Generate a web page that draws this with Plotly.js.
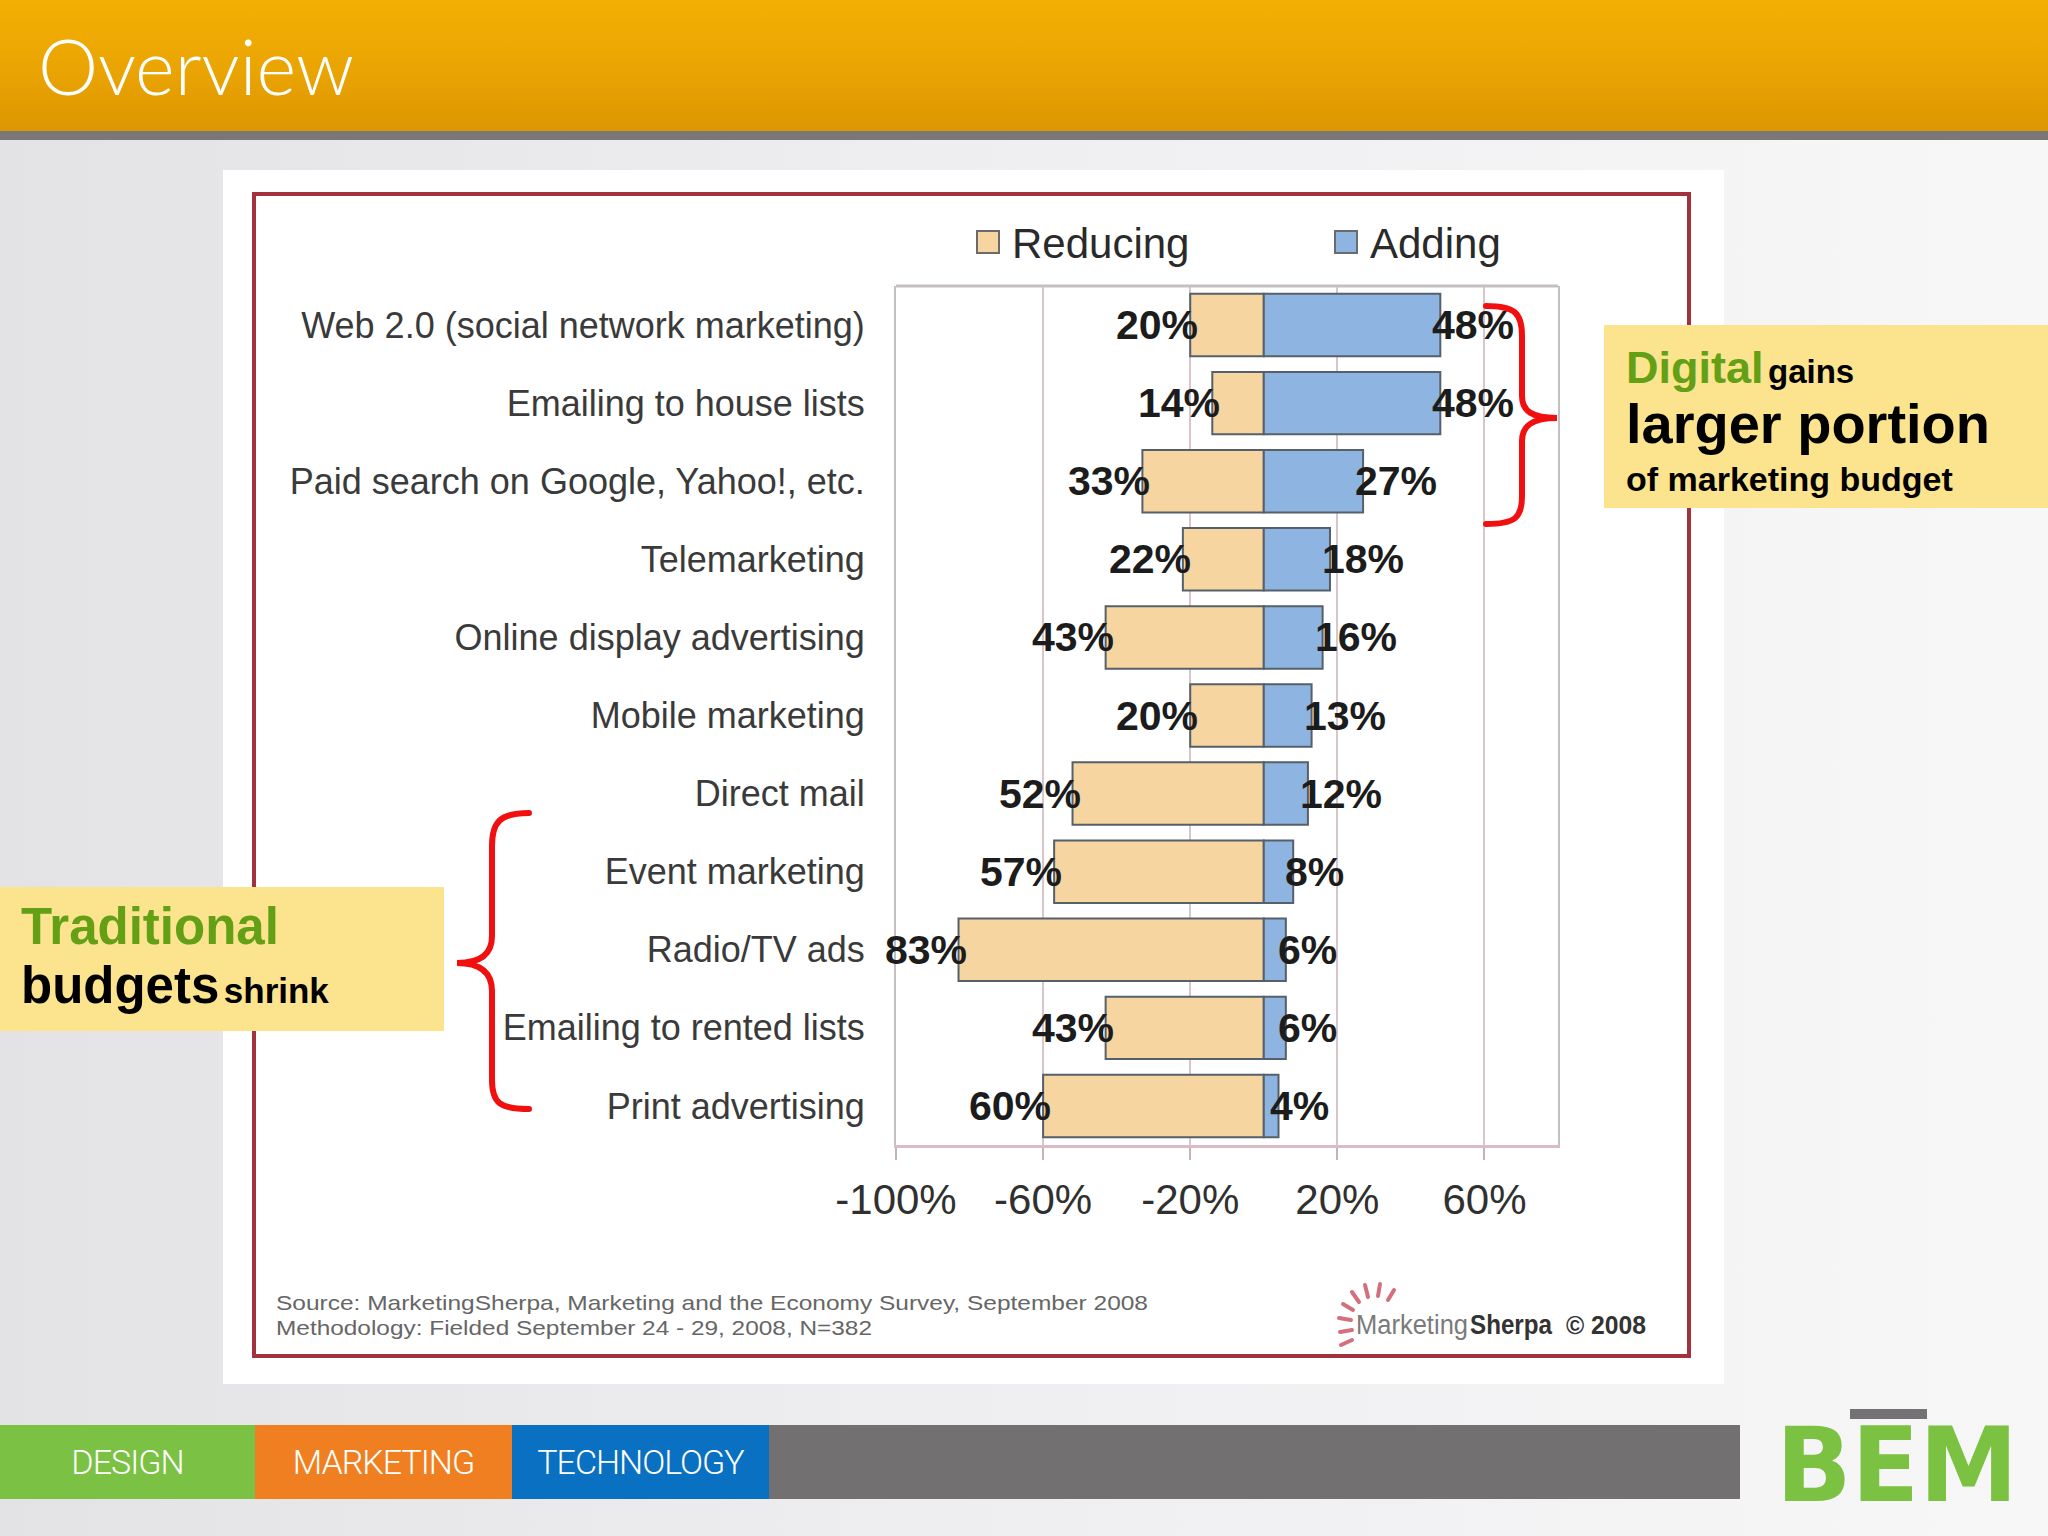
<!DOCTYPE html>
<html>
<head>
<meta charset="utf-8">
<script src="https://cdn.plot.ly/plotly-3.0.1.min.js"></script>
<style>
  html, body { margin:0; padding:0; }
  body { width:2048px; height:1536px; position:relative; overflow:hidden;
         background: linear-gradient(90deg, #e3e3e5 0%, #eeeef0 45%, #f7f7f8 100%); }
  .abs { position:absolute; }
  #header { left:0; top:0; width:2048px; height:132px;
            background: linear-gradient(180deg, #f3af02 0%, #eba503 50%, #dc9601 100%); }
  #stripe { left:0; top:131px; width:2048px; height:9px; background:#7a7778; }
  #title { left:38px; top:21px; color:#fff; font-family:"Lato","Open Sans",sans-serif; font-weight:300;
           font-size:76px; line-height:90px; letter-spacing:0px; }
  #imgbox { left:223px; top:170px; width:1501px; height:1214px; background:#fff; }
  #frame { left:252px; top:192px; width:1431px; height:1158px; border:4px solid #a3323f; box-sizing:content-box; }
  #footer div { position:absolute; top:1425px; height:74px; color:#fff;
                font-family:"Liberation Sans Narrow","Roboto","Liberation Sans",sans-serif; font-weight:300;
                font-size:34px; line-height:74px; text-align:center; letter-spacing:-1px; }
  #plot { left:0; top:0; width:2048px; height:1536px; z-index:1; }
  #overlay { left:0; top:0; width:2048px; height:1536px; z-index:2; pointer-events:none; }
  .ybox { position:absolute; background:#fce38e; font-family:"Liberation Sans",Arial,sans-serif; font-weight:bold; color:#000; }
  .green { color:#63a016; }
</style>
</head>
<body>
<div id="header" class="abs"></div>
<div id="stripe" class="abs"></div>
<div id="title" class="abs">Overview</div>
<div id="imgbox" class="abs"></div>
<div id="frame" class="abs"></div>

<svg class="abs" style="left:0;top:0;" width="2048" height="1536">
  <!-- source notes -->
  <text x="276" y="1310" font-family="Liberation Sans, Arial, sans-serif" font-size="21" fill="#666"
        textLength="872" lengthAdjust="spacingAndGlyphs">Source: MarketingSherpa, Marketing and the Economy Survey, September 2008</text>
  <text x="276" y="1335" font-family="Liberation Sans, Arial, sans-serif" font-size="21" fill="#666"
        textLength="596" lengthAdjust="spacingAndGlyphs">Methodology: Fielded September 24 - 29, 2008, N=382</text>
  <!-- MarketingSherpa logo -->
  <g stroke="#d4707e" stroke-width="4" stroke-linecap="round">
    <line x1="1352" y1="1330" x2="1340" y2="1332"/>
    <line x1="1351" y1="1320" x2="1339" y2="1318"/>
    <line x1="1353" y1="1310" x2="1343" y2="1304"/>
    <line x1="1359" y1="1302" x2="1352" y2="1292"/>
    <line x1="1368" y1="1297" x2="1365" y2="1285"/>
    <line x1="1378" y1="1296" x2="1380" y2="1284"/>
    <line x1="1388" y1="1300" x2="1394" y2="1290"/>
    <line x1="1352" y1="1340" x2="1341" y2="1345"/>
  </g>
  <text x="1356" y="1334" font-family="Liberation Sans, Arial, sans-serif" font-size="27" fill="#7a7a7a"
        textLength="112" lengthAdjust="spacingAndGlyphs">Marketing</text>
  <text x="1470" y="1334" font-family="Liberation Sans, Arial, sans-serif" font-size="27" font-weight="bold" fill="#333"
        textLength="82" lengthAdjust="spacingAndGlyphs">Sherpa</text>
  <text x="1566" y="1334" font-family="Liberation Sans, Arial, sans-serif" font-size="26" font-weight="bold" fill="#333"
        textLength="80" lengthAdjust="spacingAndGlyphs">© 2008</text>
</svg>

<div id="footer">
  <div style="left:0;width:255px;background:#7bc143;">DESIGN</div>
  <div style="left:255px;width:257px;background:#f07f22;">MARKETING</div>
  <div style="left:512px;width:257px;background:#0a70c1;">TECHNOLOGY</div>
  <div style="left:769px;width:971px;background:#727071;"></div>
</div>
<svg class="abs" style="left:0;top:0;" width="2048" height="1536">
  <rect x="1850" y="1409" width="77" height="10" fill="#747275"/>
  <text x="1776" y="1501" font-family="DejaVu Sans, Liberation Sans, sans-serif" font-weight="bold" font-size="104"
        fill="#7cc242" textLength="242" lengthAdjust="spacingAndGlyphs">BEM</text>
</svg>

<div id="plot" class="abs"></div>

<div id="overlay" class="abs">
  <div class="ybox" style="left:1604px;top:325px;width:444px;height:183px;">
    <div style="position:absolute;left:22px;top:17px;white-space:nowrap;line-height:52px;">
      <span class="green" style="font-size:45px;">Digital</span> <span style="font-size:33px;">gains</span>
    </div>
    <div style="position:absolute;left:22px;top:67px;white-space:nowrap;font-size:56px;line-height:64px;">larger portion</div>
    <div style="position:absolute;left:22px;top:134px;white-space:nowrap;font-size:34px;line-height:40px;">of marketing budget</div>
  </div>
  <div class="ybox" style="left:0;top:887px;width:444px;height:144px;">
    <div style="position:absolute;left:21px;top:12px;white-space:nowrap;font-size:51px;line-height:56px;" class="green">Traditional</div>
    <div style="position:absolute;left:21px;top:70px;white-space:nowrap;line-height:58px;">
      <span style="font-size:51px;">budgets</span>&nbsp;<span style="font-size:35px;">shrink</span>
    </div>
  </div>
  <svg style="position:absolute;left:0;top:0;" width="2048" height="1536">
    <path d="M1486,306 C1515,306 1522,313 1522,336 L1522,396 C1522,411 1532,418 1557,418 C1532,418 1522,426 1522,441 L1522,496 C1522,518 1515,524 1486,524"
          fill="none" stroke="#f01010" stroke-width="6" stroke-linecap="round"/>
    <path d="M529,813 C500,813 492,822 492,846 L492,936 C492,953 482,963 457,963 C482,963 492,974 492,991 L492,1080 C492,1103 500,1109 529,1109"
          fill="none" stroke="#f01010" stroke-width="6" stroke-linecap="round"/>
  </svg>
</div>

<script>
// ---------------- data ----------------
const categories = [
  "Web 2.0 (social network marketing)",
  "Emailing to house lists",
  "Paid search on Google, Yahoo!, etc.",
  "Telemarketing",
  "Online display advertising",
  "Mobile marketing",
  "Direct mail",
  "Event marketing",
  "Radio/TV ads",
  "Emailing to rented lists",
  "Print advertising"
];
const reducing = [20, 14, 33, 22, 43, 20, 52, 57, 83, 43, 60];
const adding   = [48, 48, 27, 18, 16, 13, 12, 8, 6, 6, 4];
const seriesNames = ["Reducing", "Adding"];
const tickVals = [-100, -60, -20, 20, 60];
const tickText = ["-100%", "-60%", "-20%", "20%", "60%"];

// ---------------- styles ----------------
const ARIAL = "Liberation Sans, Arial, sans-serif";
const colReduce = "#f6d5a0";
const colAdd = "#8eb4e2";
const barLine = {color: "#56606a", width: 2};

// plot area in page pixels
const PL = 896, PR = 1558, PT = 286, PB = 1145;
const W = 2048, H = 1536;
const px = X => (X - PL) / (PR - PL);
const py = Y => 1 - (Y - PT) / (PB - PT);

const traces = [
  {
    type: "bar", orientation: "h", name: seriesNames[0],
    y: categories, x: reducing.map(v => -v),
    marker: {color: colReduce, line: barLine},
    hoverinfo: "skip", showlegend: false
  },
  {
    type: "bar", orientation: "h", name: seriesNames[1],
    y: categories, x: adding,
    marker: {color: colAdd, line: barLine},
    hoverinfo: "skip", showlegend: false
  }
];

const annotations = [];
categories.forEach((c, i) => {
  annotations.push({
    x: -reducing[i], y: c, xref: "x", yref: "y", text: reducing[i] + "%",
    xanchor: "right", yanchor: "middle", xshift: 10, showarrow: false,
    font: {family: ARIAL, size: 41, color: "#1c1c1c", weight: "bold"}
  });
  annotations.push({
    x: adding[i], y: c, xref: "x", yref: "y", text: adding[i] + "%",
    xanchor: "left", yanchor: "middle", xshift: -10, showarrow: false,
    font: {family: ARIAL, size: 41, color: "#1c1c1c", weight: "bold"}
  });
});

// custom legend (larger swatches than Plotly's fixed symbol)
const legendItems = [
  {name: seriesNames[0], color: colReduce, sx: 977, tx: 1010},
  {name: seriesNames[1], color: colAdd, sx: 1335, tx: 1368}
];
const shapes = [
  // grey top frame line of the plot area
  {type: "line", xref: "paper", yref: "paper", x0: 0, x1: 1, y0: 1, y1: 1,
   line: {color: "#c4bfc1", width: 3}}
];
legendItems.forEach(it => {
  shapes.push({
    type: "rect", xref: "paper", yref: "paper",
    x0: px(it.sx), x1: px(it.sx + 22), y0: py(253), y1: py(231),
    fillcolor: it.color, line: {color: "#6b6b6b", width: 2}
  });
  annotations.push({
    xref: "paper", yref: "paper", x: px(it.tx), y: py(243),
    xanchor: "left", yanchor: "middle", showarrow: false, text: it.name,
    font: {family: ARIAL, size: 42, color: "#2a2a2a"}
  });
});

const layout = {
  width: W, height: H,
  margin: {l: PL, r: W - PR, t: PT, b: H - PB, pad: 0},
  paper_bgcolor: "rgba(0,0,0,0)",
  plot_bgcolor: "rgba(0,0,0,0)",
  barmode: "relative",
  bargap: 0.2,
  showlegend: false,
  xaxis: {
    range: [-100, 80], tickvals: tickVals, ticktext: tickText,
    showgrid: true, gridcolor: "#d9c6cb", gridwidth: 2,
    zeroline: false,
    showline: true, linecolor: "#dbbcc5", linewidth: 3, mirror: false,
    ticks: "outside", ticklen: 12, tickwidth: 2, tickcolor: "#c8b2b8",
    ticklabelstandoff: 4,
    tickfont: {family: ARIAL, size: 42, color: "#303030"},
    fixedrange: true
  },
  yaxis: {
    type: "category", autorange: "reversed",
    showgrid: false, zeroline: false,
    showline: true, linecolor: "#c4bfc1", linewidth: 2, mirror: true,
    ticks: "", ticklabelstandoff: 22,
    tickfont: {family: ARIAL, size: 36, color: "#3a3a3a"},
    fixedrange: true
  },
  annotations: annotations,
  shapes: shapes
};

Plotly.newPlot("plot", traces, layout, {displayModeBar: false, staticPlot: true});
</script>
</body>
</html>
